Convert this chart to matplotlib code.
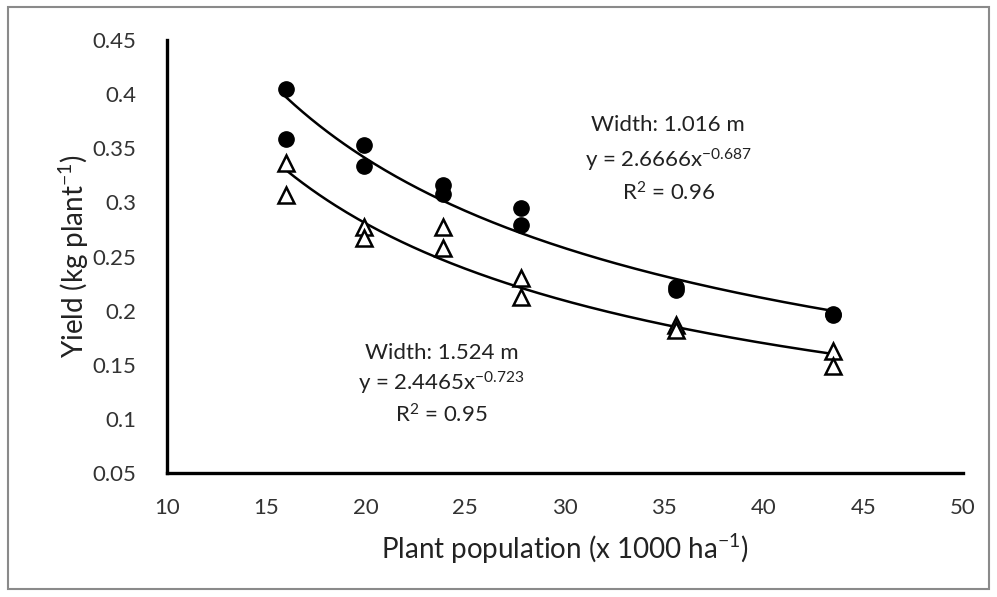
import numpy as np
import matplotlib
matplotlib.use("Agg")
import matplotlib.pyplot as plt
from matplotlib.patches import Rectangle

plt.rcParams["font.family"] = ["Lato", "DejaVu Sans"]
plt.rcParams["mathtext.fontset"] = "custom"
plt.rcParams["mathtext.rm"] = "Lato"
plt.rcParams["mathtext.it"] = "Lato:italic"

# plant population (x 1000 ha^-1), two replicates per level
population = [16.0, 16.0, 19.9, 19.9, 23.9, 23.9, 27.8, 27.8, 35.6, 35.6, 43.5, 43.5]
yield_1016 = [0.405, 0.359, 0.353, 0.334, 0.316, 0.308, 0.295, 0.279, 0.222, 0.219, 0.197, 0.196]
pop_1524 = [16.0, 16.0, 19.9, 19.9, 23.9, 23.9, 27.8, 27.8, 35.6, 35.6, 43.5, 43.5]
yield_1524 = [0.336, 0.307, 0.277, 0.267, 0.277, 0.258, 0.230, 0.213, 0.187, 0.182, 0.163, 0.149]

# power fits y = a * x^b
fit_1016 = (2.6666, -0.687)
fit_1524 = (2.4465, -0.723)

fig = plt.figure(figsize=(9.97, 5.97), dpi=100)
ax = fig.add_axes([0.1675, 0.2077, 0.798, 0.7253])

ax.plot(population, yield_1016, "o", ms=11, color="black", zorder=3)
ax.plot(pop_1524, yield_1524, "^", ms=12, mfc="white", mec="black", mew=1.8, zorder=3)

xs = np.linspace(min(population), max(population), 200)
ax.plot(xs, fit_1016[0] * xs ** fit_1016[1], color="black", lw=1.8, zorder=2)
ax.plot(xs, fit_1524[0] * xs ** fit_1524[1], color="black", lw=1.8, zorder=2)

ax.set_xlim(10, 50)
ax.set_ylim(0.05, 0.45)
ax.set_xticks(np.arange(10, 51, 5))
ax.set_yticks([0.05, 0.1, 0.15, 0.2, 0.25, 0.3, 0.35, 0.4, 0.45])
ax.set_yticklabels(["0.05", "0.1", "0.15", "0.2", "0.25", "0.3", "0.35", "0.4", "0.45"])
ax.tick_params(length=0, labelsize=16, colors="#333333")
ax.tick_params(axis="y", pad=22)
ax.tick_params(axis="x", pad=18)
for side in ["top", "right"]:
    ax.spines[side].set_visible(False)
for side in ["left", "bottom"]:
    ax.spines[side].set_linewidth(2.4)
    ax.spines[side].set_color("black")

ax.set_xlabel("Plant population (x 1000 ha$\\mathregular{^{-1}}$)", fontsize=20, color="#222222", labelpad=10)
ax.set_ylabel("Yield (kg plant$\\mathregular{^{-1}}$)", fontsize=20, color="#222222", labelpad=1)

txt = dict(ha="center", va="center", fontsize=16, color="#222222")
ax.text(35.2, 0.3715, "Width: 1.016 m", **txt)
ax.text(35.2, 0.339, "y = 2.6666x$\\mathregular{^{-0.687}}$", **txt)
ax.text(35.2, 0.3087, "R$\\mathregular{^{2}}$ = 0.96", **txt)
ax.text(23.8, 0.161, "Width: 1.524 m", **txt)
ax.text(23.8, 0.133, "y = 2.4465x$\\mathregular{^{-0.723}}$", **txt)
ax.text(23.8, 0.1036, "R$\\mathregular{^{2}}$ = 0.95", **txt)

fig.patches.append(Rectangle((0.008, 0.013), 0.984, 0.975, transform=fig.transFigure,
                             fill=False, edgecolor="#8a8a8a", lw=1.5))

fig.savefig("out.png", dpi=100)
